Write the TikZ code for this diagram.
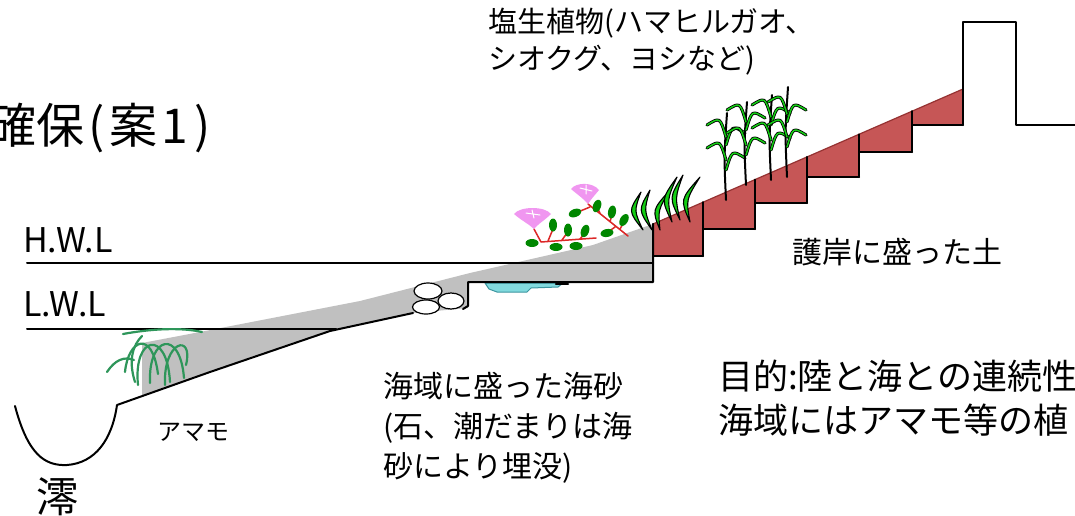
\documentclass[tikz,border=0pt]{standalone}
\usepackage{fontspec}
\setmainfont{Noto Sans CJK JP}
\definecolor{sunagray}{RGB}{192,192,192}
\definecolor{tsuchired}{RGB}{198,86,86}
\definecolor{tsuchiline}{RGB}{150,50,50}
\definecolor{amamogreen}{RGB}{46,150,90}
\definecolor{kusagreen}{RGB}{20,205,20}
\definecolor{hanapink}{RGB}{240,150,240}
\definecolor{kukired}{RGB}{220,40,40}
\definecolor{hagreen}{RGB}{0,135,0}
\definecolor{mizucyan}{RGB}{130,218,222}
\definecolor{mizuline}{RGB}{60,150,160}
\newcommand\jfs[2]{\fontsize{#1}{#2}\selectfont}
\begin{document}
\begin{tikzpicture}[x=1pt, y=-1pt, line join=round, line cap=round,
	sen/.style={line width=2pt},
	grassblade/.style={fill=kusagreen, draw=black, line width=1.1pt},
	reedleaf/.style={draw=black, double=kusagreen, double distance=1.5pt, line width=0.8pt},
	leaf/.style={fill=hagreen},
	txt/.style={anchor=west, inner sep=0pt}]
	\fill[white] (0,0) rectangle (1075,515);
	\useasboundingbox (0,0) rectangle (1075,515);
	\def\ya{224} % 護岸の法肩
	\def\sl{0.4355} % 勾配
	\coordinate (S) at (653,\ya);
	\coordinate (W) at (963,89);
	% 海砂
	\fill[sunagray] (142,396) -- (142,343) -- (200,332) -- (360,301) -- (470,273) -- (593,245) -- (S)
		-- (653,282) -- (468,282) -- (468,308) -- (413,313) -- (330,331) -- (210,372) -- cycle;
	% 護岸に盛った土
	\fill[tsuchired] (S) -- (653,256) -- (703,256) -- (703,229) -- (755,229) -- (755,203) -- (807,203)
		-- (807,177) -- (859,177) -- (859,152) -- (912,152) -- (912,125) -- (963,125) -- (W) -- cycle;
	\draw[tsuchiline, line width=1.2pt] (S) -- (W);
	\foreach \xl/\xr/\yb/\yp in {653/703/256/256, 703/755/229/256, 755/807/203/229, 807/859/177/203, 859/912/152/177, 912/963/125/152}{
		\pgfmathsetmacro{\yt}{\ya-\sl*(\xl-653)}
		\draw[sen] (\xl,\yt) -- (\xl,\yp) (\xl,\yb) -- (\xr,\yb);
	}
	% 潮位
	\draw[sen] (27,263) -- (653,263);
	\draw[sen] (27,329) -- (336,329);
	% 澪と海底
	\draw[sen] (15,406) .. controls (28,455) and (45,466) .. (67,465) .. controls (95,463) and (112,440) .. (117,405)
		-- (210,372) -- (330,331) -- (413,313);
	% 潮だまり
	\filldraw[fill=mizucyan, draw=mizuline, line width=1pt] (485,283) -- (489,289) -- (497,292) -- (527,292)
		-- (531,288) -- (558,287) -- (563,283) -- cycle;
	\draw[line width=2.5pt] (556,284) -- (568,284);
	\draw[sen] (463,309) -- (468,306) -- (468,282) -- (653,282) -- (S);
	% 石
	\filldraw[fill=white, draw=black, line width=1.2pt] (426,307) ellipse (13.5 and 7);
	\filldraw[fill=white, draw=black, line width=1.2pt] (451,301) ellipse (13 and 8);
	\filldraw[fill=white, draw=black, line width=1.2pt] (428,291) ellipse (14 and 8);
	% 擁壁
	\draw[sen] (963,125) -- (963,22) -- (1016,22) -- (1016,125) -- (1075,125);
	% アマモ
	\begin{scope}[amamogreen, line width=2.2pt]
		\draw (125,372) .. controls (128,340) and (152,328) .. (158,374);
		\draw (138,385) .. controls (133,336) and (167,328) .. (170,382);
		\draw (150,383) .. controls (148,336) and (180,328) .. (184,378);
		\draw (165,385) .. controls (163,340) and (194,333) .. (186,365);
		\draw (107,372) .. controls (115,360) and (124,356) .. (134,360);
		\draw (123,334) .. controls (150,329) and (180,327) .. (202,332);
		\draw (135,382) .. controls (128,360) and (133,345) .. (142,336);
	\end{scope}
	% ハマヒルガオ
	\draw[kukired, line width=1.5pt] (534,229) -- (541,242) -- (596,238)
		(548,241) -- (553,229) (562,240) -- (567,233) (580,239) -- (585,233)
		(588,204) -- (598,212) -- (628,236) (600,213) -- (597,207) (610,222) -- (612,214)
		(620,229) -- (624,222) (615,227) -- (608,232) (590,207) -- (578,212);
	\foreach \lx/\ly/\lr in {532/243/0, 553/225/90, 568/230/90, 585/231/70, 556/247/0, 576/246/0,
		575/213/20, 597/206/70, 612/212/80, 624/220/60, 607/233/10}
		\fill[leaf, rotate around={\lr:(\lx,\ly)}] (\lx,\ly) ellipse (6.5 and 4);
	\fill[hanapink] (514,214) .. controls (522,221) and (529,224) .. (534,229) .. controls (538,224) and (545,220) .. (551,214)
		.. controls (545,206) and (520,206) .. cycle;
	\fill[hanapink] (571,189) .. controls (578,195) and (584,199) .. (588,204) .. controls (591,199) and (595,195) .. (599,190)
		.. controls (593,182) and (576,182) .. cycle;
	\draw[white, line width=1pt] (526,213) -- (540,215) (532,210) -- (534,218) (580,188) -- (592,191) (586,185) -- (586,194);
	% 草
	\foreach \bx/\by/\tx/\ty/\cx in {643/230/641/192/628, 652/230/650/190/638, 660/230/670/190/652,
		672/222/677/177/661, 680/220/683/175/669, 690/222/700/177/680}
		\filldraw[grassblade] (\bx,\by) .. controls (\cx,{(\by+\ty)/2}) .. (\tx,\ty)
			.. controls (\cx+6,{(\by+\ty)/2}) .. (\bx,\by) -- cycle;
	% ヨシ
	\foreach \rx/\rb/\rt in {726/200/113, 746/185/102, 771/180/95, 787/177/87}{
		\draw[line width=2pt] (\rx,\rb) .. controls (\rx-2,{(\rb+\rt)/2}) .. (\rx+1,\rt);
		\foreach \h in {40,63}
			\draw[reedleaf] (\rx,\rb-\h) .. controls (\rx-6,\rb-\h-20) .. (\rx-19,\rb-\h-12);
		\foreach \h in {30,55}
			\draw[reedleaf] (\rx,\rb-\h) .. controls (\rx+6,\rb-\h-20) .. (\rx+19,\rb-\h-12);
	}
	% 文字
	\node[txt, font=\jfs{48}{52}] (title) at (-12,128) {確保\hspace{4pt}(\hspace{5pt}案\hspace{4pt}1\hspace{6pt})};
	\node[txt, font=\jfs{34}{40}] (hwl) at (23,240) {H.W.L};
	\node[txt, font=\jfs{34}{40}] (lwl) at (23,304) {L.W.L};
	\node[txt, align=left, font=\jfs{29}{37}] (shiokusa) at (488,42) {塩生植物(ハマヒルガオ、\\シオクグ、ヨシなど)};
	\node[txt, font=\jfs{30}{36}] (gogan) at (792,252) {護岸に盛った土};
	\node[txt, align=left, font=\jfs{30}{40}] (kaisa) at (383,428) {海域に盛った海砂\\(石、潮だまりは海\\砂により埋没)};
	\node[txt, align=left, font=\jfs{35}{44}] (mokuteki) at (718,398) {目的:陸と海との連続性\\海域にはアマモ等の植};
	\node[txt, font=\jfs{24}{28}] (amamo) at (157,432) {アマモ};
	\node[inner sep=0pt, font=\jfs{42}{46}] (mio) at (57,497) {澪};
\end{tikzpicture}
\end{document}
